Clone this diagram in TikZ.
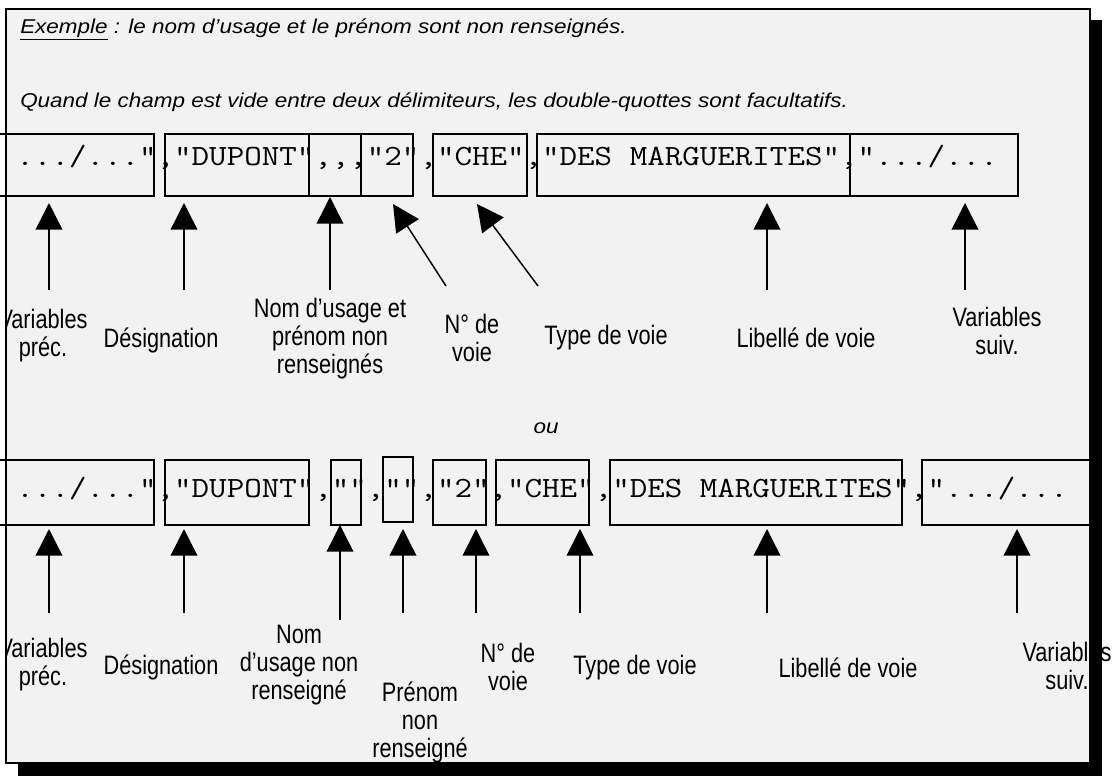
\documentclass[tikz,border=0pt]{standalone}
\usepackage{fontspec}
\setmainfont{Liberation Sans}
\newfontfamily\titlefont[FakeStretch=1.123]{Liberation Sans}
\newfontfamily\labelfont[FakeStretch=0.815]{Liberation Sans}
\usetikzlibrary{arrows.meta}
\definecolor{framegray}{HTML}{F2F2F2}
\newcommand{\monotext}[1]{\scalebox{1.16}[1]{\ttfamily\fontsize{22}{26}\selectfont #1}}
\tikzset{
  frameline/.style={draw=black, line width=1.5pt, fill=framegray},
  boxline/.style={draw=black, line width=1.1pt},
  arr/.style={draw=black, line width=1.1pt, -{Triangle[length=20pt,width=20pt]}},
  lbl/.style={font=\labelfont\fontsize{20}{21}\selectfont, align=center, inner sep=0pt},
  ttl/.style={font=\titlefont\itshape\fontsize{15}{18}\selectfont, anchor=base west, inner sep=0pt},
  mono/.style={anchor=base west, inner sep=0pt},
  shadow/.style={fill=black, draw=none}
}
\begin{document}
\begin{tikzpicture}[x=0.75pt,y=-0.75pt]
\useasboundingbox (0,0) rectangle (1114,776);
\fill[white] (0,0) rectangle (1114,776);
% frame
\path[frameline] (6,8.5) rectangle (1090,763);

% titles
\node[ttl] (t1) at (20,33) {\underline{Exemple} : le nom d’usage et le prénom sont non renseignés.};
\node[ttl] (t2) at (20,107) {Quand le champ est vide entre deux délimiteurs, les double-quottes sont facultatifs.};
\node[ttl, anchor=base] (ou) at (546,433) {ou};

% row 1 boxes
\draw[boxline] (-5,134) rectangle (154,196);
\draw[boxline] (165,134) rectangle (309,196);
\draw[boxline] (309,134) rectangle (361,196);
\draw[boxline] (361,134) rectangle (413,196);
\draw[boxline] (433,134) rectangle (527,196);
\draw[boxline] (537,134) rectangle (850,196);
\draw[boxline] (850,134) rectangle (1018,196);
\node[mono] (r1) at (16.2,165) {\monotext{.../...","DUPONT",\kern0pt,\kern0pt,"2","CHE","DES MARGUERITES",".../...}};

% row 2 boxes
\draw[boxline] (-5,460) rectangle (154,525);
\draw[boxline] (165,460) rectangle (309,525);
\draw[boxline] (331,460) rectangle (361,525);
\draw[boxline] (383,457) rectangle (413,522);
\draw[boxline] (433,460) rectangle (486,525);
\draw[boxline] (496,460) rectangle (589,525);
\draw[boxline] (610,460) rectangle (902,525);
\draw[boxline] (1090,460) -- (922,460) -- (922,525) -- (1090,525);
\node[mono] (r2) at (16.2,497.7) {\monotext{.../...","DUPONT","","","2","CHE","DES MARGUERITES",".../...}};

% row 1 arrows
\coordinate (a1s) at (49,290);  \coordinate (a1e) at (49,203);
\coordinate (a2s) at (184,290); \coordinate (a2e) at (184,203);
\coordinate (a3s) at (330,290); \coordinate (a3e) at (330,197);
\coordinate (a4s) at (446,286); \coordinate (a4e) at (393,204);
\coordinate (a5s) at (538,286); \coordinate (a5e) at (477,204);
\coordinate (a6s) at (767,290); \coordinate (a6e) at (767,203);
\coordinate (a7s) at (965,290); \coordinate (a7e) at (965,203);
\foreach \i in {1,...,7} {\draw[arr] (a\i s) -- (a\i e);}

% row 2 arrows
\coordinate (b1s) at (49,613);  \coordinate (b1e) at (49,529);
\coordinate (b2s) at (184,613); \coordinate (b2e) at (184,529);
\coordinate (b3s) at (340,620); \coordinate (b3e) at (340,525);
\coordinate (b4s) at (403,613); \coordinate (b4e) at (403,529);
\coordinate (b5s) at (476,613); \coordinate (b5e) at (476,529);
\coordinate (b6s) at (580,613); \coordinate (b6e) at (580,529);
\coordinate (b7s) at (767,613); \coordinate (b7e) at (767,529);
\coordinate (b8s) at (1017,613); \coordinate (b8e) at (1017,529);
\foreach \i in {1,...,8} {\draw[arr] (b\i s) -- (b\i e);}

% labels clipped at the frame's left edge
\begin{scope}
\clip (7,0) rectangle (1114,776);
\node[lbl] (l1) at (43,335.5) {Variables\\préc.};
\node[lbl] (m1) at (43,665) {Variables\\préc.};
\end{scope}
% row 1 labels
\node[lbl] (l2) at (161,340) {Désignation};
\node[lbl] (l3) at (330,339) {Nom d’usage et\\prénom non\\renseignés};
\node[lbl] (l4) at (472,338) {N° de\\voie};
\node[lbl] (l5) at (606,338) {Type de voie};
\node[lbl] (l6) at (806,338) {Libellé de voie};
\node[lbl] (l7) at (997,331) {Variables\\suiv.};

% row 2 labels
\node[lbl] (m2) at (161,667) {Désignation};
\node[lbl] (m3) at (299,665) {Nom\\d’usage non\\renseigné};
\node[lbl] (m4) at (420,722) {Prénom\\non\\renseigné};
\node[lbl] (m5) at (508,667) {N° de\\voie};
\node[lbl] (m6) at (635,668) {Type de voie};
\node[lbl] (m7) at (848,668) {Libellé de voie};
\node[lbl] (m8) at (1067,666) {Variables\\suiv.};

% shadow
\path[shadow] (1090,20) rectangle (1102,776);
\path[shadow] (18,763) rectangle (1102,776);
\end{tikzpicture}
\end{document}
